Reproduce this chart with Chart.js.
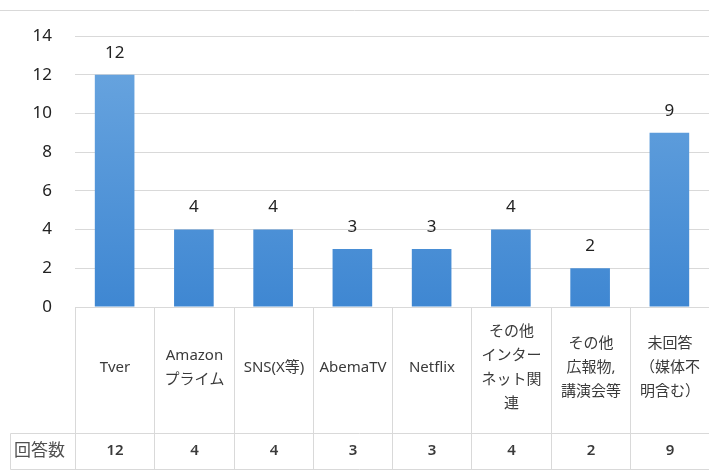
<!DOCTYPE html>
<html>
<head>
<meta charset="utf-8">
<script src="https://cdn.jsdelivr.net/npm/chart.js@4"></script>
<style>
html, body { margin: 0; padding: 0; background: #fff; }
#wrap { width: 709px; height: 471px; }
</style>
</head>
<body>
<div id="wrap"><canvas id="mediaChart"></canvas></div>
<script>
// categories (one entry per line as wrapped in the table header)
const categories = [
    ['Tver'],
    ['Amazon', 'プライム'],
    ['SNS(X等)'],
    ['AbemaTV'],
    ['Netflix'],
    ['その他', 'インター', 'ネット関', '連'],
    ['その他', '広報物,', '講演会等'],
    ['未回答', '（媒体不', '明含む）']
];
const counts = [12, 4, 4, 3, 3, 4, 2, 9];
const seriesName = '回答数';
const yMax = 14;
const yStep = 2;

const FONT = "'Noto Sans', 'Noto Sans CJK JP', sans-serif";

// value labels above bars
const valueLabels = {
    id: 'valueLabels',
    afterDatasetsDraw(chart) {
        const ctx = chart.ctx;
        const meta = chart.getDatasetMeta(0);
        ctx.save();
        ctx.font = '17px ' + FONT;
        ctx.fillStyle = '#222';
        ctx.textAlign = 'center';
        ctx.textBaseline = 'middle';
        meta.data.forEach((bar, i) => {
            ctx.fillText(String(counts[i]), bar.x, bar.y - 22);
        });
        ctx.restore();
    }
};

// frame line + data table under the plot
const dataTable = {
    id: 'dataTable',
    beforeDraw(chart) {
        const ctx = chart.ctx;
        ctx.save();
        ctx.strokeStyle = '#d9d9d9';
        ctx.lineWidth = 1;
        ctx.beginPath();
        ctx.moveTo(0, 10.5);
        ctx.lineTo(chart.width, 10.5);
        ctx.stroke();
        ctx.restore();
    },
    afterDraw(chart) {
        const ctx = chart.ctx;
        const xs = chart.scales.x;
        const top = Math.round(chart.chartArea.bottom) + 0.5;
        const mid = 433.5;
        const bottom = 469.5;
        const tableLeft = 10.5;
        const edges = [];
        for (let i = 0; i <= categories.length; i++) {
            edges.push(Math.round(xs.getPixelForValue(i - 0.5)) + 0.5);
        }
        ctx.save();
        ctx.strokeStyle = '#d9d9d9';
        ctx.lineWidth = 1;
        ctx.beginPath();
        ctx.moveTo(edges[0], top); ctx.lineTo(chart.width, top);
        ctx.moveTo(tableLeft, mid); ctx.lineTo(chart.width, mid);
        ctx.moveTo(tableLeft, bottom); ctx.lineTo(chart.width, bottom);
        ctx.moveTo(tableLeft, mid); ctx.lineTo(tableLeft, bottom);
        edges.forEach(x => { ctx.moveTo(x, top); ctx.lineTo(x, bottom); });
        ctx.stroke();

        ctx.textAlign = 'center';
        ctx.textBaseline = 'middle';
        const lineH = 24;
        const headCenter = 368;
        categories.forEach((lines, i) => {
            const cx = (edges[i] + edges[i + 1]) / 2;
            ctx.font = '15px ' + FONT;
            ctx.fillStyle = '#3a3a3a';
            const y0 = headCenter - (lines.length - 1) * lineH / 2;
            lines.forEach((t, j) => ctx.fillText(t, cx, y0 + j * lineH));
            ctx.font = '600 15px ' + FONT;
            ctx.fillText(String(counts[i]), cx, 451);
        });
        ctx.font = '17px ' + FONT;
        ctx.textAlign = 'left';
        ctx.fillStyle = '#505050';
        ctx.fillText(seriesName, 14, 451);
        ctx.restore();
    }
};

function barGradient(context) {
    const area = context.chart.chartArea;
    if (!area) return '#5b9bd5';
    const g = context.chart.ctx.createLinearGradient(0, area.top, 0, area.bottom);
    g.addColorStop(0, '#6ca7e0');
    g.addColorStop(1, '#3f87d2');
    return g;
}

const ctx = document.getElementById('mediaChart').getContext('2d');
new Chart(ctx, {
    type: 'bar',
    data: {
        labels: categories.map(c => c.join('')),
        datasets: [{
            label: seriesName,
            data: counts,
            backgroundColor: barGradient,
            borderWidth: 0,
            categoryPercentage: 1,
            barPercentage: 0.5
        }]
    },
    options: {
        responsive: true,
        maintainAspectRatio: false,
        animation: false,
        layout: { padding: { top: 36, bottom: 164, left: 0, right: 0 } },
        plugins: {
            legend: { display: false },
            tooltip: { enabled: false }
        },
        scales: {
            x: { display: false },
            y: {
                min: 0,
                max: yMax,
                ticks: {
                    stepSize: yStep,
                    padding: 23,
                    color: '#222',
                    font: { size: 17, family: FONT }
                },
                grid: { color: '#d9d9d9', drawTicks: false },
                border: { display: false },
                afterFit(scale) { scale.width = 75; }
            }
        }
    },
    plugins: [valueLabels, dataTable]
});
</script>
</body>
</html>
